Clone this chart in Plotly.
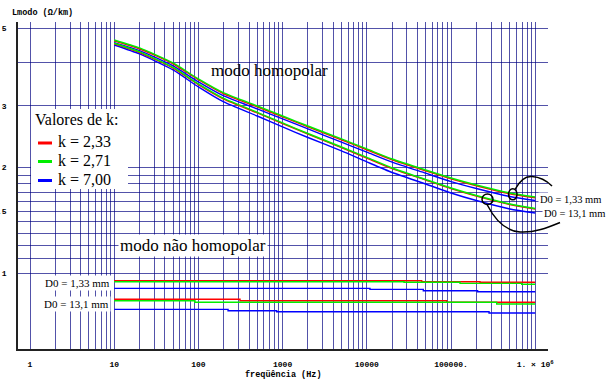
import plotly.graph_objects as go

# Frequency samples (Hz)
freq = [10, 20, 50, 100, 200, 500, 1000, 2000, 5000, 1e4, 2e4, 5e4, 1e5, 2e5, 5e5, 1e6]

# Homopolar mode, D0 = 1,33 mm
hom_133_k233 = [4.607, 4.371, 3.960, 3.565, 3.251, 2.984, 2.794, 2.616, 2.402, 2.250, 2.106, 1.959, 1.858, 1.775, 1.684, 1.640]
hom_133_k271 = [4.631, 4.394, 3.981, 3.584, 3.268, 3.000, 2.809, 2.630, 2.415, 2.262, 2.117, 1.969, 1.868, 1.784, 1.693, 1.649]
hom_133_k700 = [4.552, 4.319, 3.905, 3.516, 3.206, 2.943, 2.756, 2.580, 2.364, 2.214, 2.073, 1.928, 1.825, 1.743, 1.654, 1.611]
# Homopolar mode, D0 = 13,1 mm
hom_131_k233 = [4.513, 4.263, 3.850, 3.454, 3.139, 2.866, 2.672, 2.493, 2.282, 2.130, 1.987, 1.843, 1.742, 1.658, 1.569, 1.523]
hom_131_k271 = [4.531, 4.280, 3.865, 3.468, 3.152, 2.878, 2.683, 2.503, 2.291, 2.139, 1.995, 1.850, 1.749, 1.665, 1.575, 1.529]
hom_131_k700 = [4.481, 4.224, 3.802, 3.401, 3.080, 2.809, 2.613, 2.438, 2.232, 2.077, 1.937, 1.796, 1.693, 1.611, 1.524, 1.484]

# Non-homopolar mode (stepwise), D0 = 1,33 mm
nh_133_k233_f = [10, 44900, 221000, 1e6]
nh_133_k233 = [0.9506, 0.9444, 0.9407, 0.9407]
nh_133_k271_f = [10, 27700, 128000, 691000, 1e6]
nh_133_k271 = [0.9444, 0.9407, 0.9345, 0.9284, 0.9284]
nh_133_k700_f = [10, 10900, 46900, 207000, 1e6]
nh_133_k700 = [0.9042, 0.8982, 0.8901, 0.8841, 0.8841]
# Non-homopolar mode (stepwise), D0 = 13,1 mm
nh_131_k233_f = [10, 312, 88900, 1e6]
nh_131_k233 = [0.8412, 0.8335, 0.8249, 0.8249]
nh_131_k271_f = [10, 91, 349000, 1e6]
nh_131_k271 = [0.8335, 0.8249, 0.8156, 0.8156]
nh_131_k700_f = [10, 225, 851, 283000, 1e6]
nh_131_k700 = [0.7876, 0.7804, 0.7752, 0.7686, 0.7686]

x_ticks = [1, 10, 100, 1000, 10000, 100000, 1000000]
x_tick_text = ["1", "10", "100", "1000", "10000", "100000.", "1. × 10<sup>6</sup>"]
x_minor = [m * 10 ** d for d in range(6) for m in range(2, 10)]
y_ticks = [1, 1.5, 2, 3, 5]
y_tick_text = ["1", "1.5", "2", "3", "5"]
y_minor = [1.1, 1.2, 1.3, 1.4, 1.6, 1.7, 1.8, 1.9, 4]

k_labels = ["k = 2,33", "k = 2,71", "k = 7,00"]
k_colors = ["#ff0000", "#00ee00", "#0000ff"]

GRID = "rgba(0,0,128,0.68)"
MONO = "Liberation Mono, Courier New, monospace"
SERIF = "Liberation Serif, Times New Roman, serif"

fig = go.Figure()

smooth = [(hom_133_k700, 2), (hom_131_k700, 2), (hom_133_k233, 0), (hom_131_k233, 0),
          (hom_133_k271, 1), (hom_131_k271, 1)]
for ys, ci in smooth:
    fig.add_trace(go.Scatter(x=freq, y=ys, mode="lines", showlegend=False,
                             line=dict(color=k_colors[ci], width=1.4, shape="spline", smoothing=0.6)))

steps = [(nh_133_k700_f, nh_133_k700, 2), (nh_131_k700_f, nh_131_k700, 2),
         (nh_133_k233_f, nh_133_k233, 0), (nh_131_k233_f, nh_131_k233, 0),
         (nh_133_k271_f, nh_133_k271, 1), (nh_131_k271_f, nh_131_k271, 1)]
for xs, ys, ci in steps:
    fig.add_trace(go.Scatter(x=xs, y=ys, mode="lines", showlegend=False,
                             line=dict(color=k_colors[ci], width=1.4, shape="hv")))

L, R, T, B = 18, 59, 22, 35
W, H = 607, 384
PW, PH = W - L - R, H - T - B


def px(x):
    return (x - L) / PW


def py(y):
    return (H - B - y) / PH


def path(points, closed=False):
    s = ""
    for cmd, pts in points:
        s += cmd + " " + " ".join(f"{px(a):.5f},{py(b):.5f}" for a, b in pts) + " "
    return s + ("Z" if closed else "")


shapes = []
# legend box
shapes.append(dict(type="rect", xref="paper", yref="paper", x0=px(31), x1=px(128), y0=py(189), y1=py(109),
                   fillcolor="white", line=dict(width=0), layer="above"))
for i, yy in enumerate([143, 161.5, 180.5]):
    shapes.append(dict(type="line", xref="paper", yref="paper", x0=px(38), x1=px(52), y0=py(yy), y1=py(yy),
                       line=dict(color=k_colors[i], width=3), layer="above"))
# markers around the curve ends
shapes.append(dict(type="circle", xref="paper", yref="paper", x0=px(508.5), x1=px(517), y0=py(199.8), y1=py(188.8),
                   line=dict(color="black", width=1.5), layer="above"))
shapes.append(dict(type="circle", xref="paper", yref="paper", x0=px(482), x1=px(493), y0=py(204.5), y1=py(194),
                   line=dict(color="black", width=1.5), layer="above"))
# curved arrows
shapes.append(dict(type="path", xref="paper", yref="paper", layer="above", line=dict(color="black", width=1.5),
                   path=path([("M", [(515, 189.5)]), ("C", [(520, 180), (526, 176), (532, 176.5)]),
                              ("C", [(540, 177), (547, 181), (552, 186)])])))
shapes.append(dict(type="path", xref="paper", yref="paper", layer="above", line=dict(color="black", width=0),
                   fillcolor="black",
                   path=path([("M", [(556.5, 189.8)]), ("L", [(548.5, 187), (553.8, 181.6)])], closed=True)))
shapes.append(dict(type="path", xref="paper", yref="paper", layer="above", line=dict(color="black", width=1.5),
                   path=path([("M", [(487, 204.5)]), ("C", [(495, 220), (505, 231), (520, 232)]),
                              ("C", [(535, 233), (549, 227), (560, 222.5)])])))
shapes.append(dict(type="path", xref="paper", yref="paper", layer="above", line=dict(color="black", width=0),
                   fillcolor="black",
                   path=path([("M", [(568, 219.3)]), ("L", [(560.5, 226.8), (557.8, 219.8)])], closed=True)))

annotations = []


def text(x, y, s, size, anchor="left", font=SERIF, bg=None, bold=False):
    annotations.append(dict(x=px(x), y=py(y), xref="paper", yref="paper", text=s, showarrow=False,
                            xanchor=anchor, yanchor="middle",
                            font=dict(family=font, size=size, color="black", weight="bold" if bold else "normal"),
                            bgcolor=bg, borderpad=1))


text(10, 13, "Lmodo (Ω/km)", 8.5, font=MONO, bold=True)
text(269, 70, "modo homopolar", 17, anchor="center")
text(118, 245, "modo não homopolar", 17, bg="white")
text(33, 119, "Valores de k:", 16)
for i, yy in enumerate([141, 160, 179]):
    text(56, yy, k_labels[i], 16)
text(43, 283, "D0 = 1,33 mm", 11, bg="white")
text(42, 304, "D0 = 13,1 mm", 11, bg="white")
text(538, 199.5, "D0 = 1,33 mm", 10.5, bg="white")
text(542, 213, "D0 = 13,1 mm", 10.5, bg="white")
text(283, 375, "freqüência (Hz)", 8.5, anchor="center", font=MONO, bold=True)

fig.update_layout(
    width=W, height=H, margin=dict(l=L, r=R, t=T, b=B),
    paper_bgcolor="white", plot_bgcolor="white",
    shapes=shapes, annotations=annotations,
    xaxis=dict(type="log", range=[-0.1425, 6.152], tickvals=x_ticks, ticktext=x_tick_text,
               showgrid=True, gridcolor=GRID, gridwidth=1, zeroline=False, automargin=False,
               showline=True, linecolor="#222", linewidth=1.5, ticks="", ticklabelstandoff=7,
               tickfont=dict(family=MONO, size=8, color="black", weight="bold"),
               minor=dict(tickvals=x_minor, showgrid=True, gridcolor=GRID, gridwidth=1, ticks="")),
    yaxis=dict(type="log", range=[-0.217, 0.717], tickvals=y_ticks, ticktext=y_tick_text,
               showgrid=True, gridcolor=GRID, gridwidth=1, zeroline=False, automargin=False,
               showline=True, linecolor="#222", linewidth=1.5, ticks="", ticklabelstandoff=8,
               tickfont=dict(family=MONO, size=8, color="black", weight="bold"),
               minor=dict(tickvals=y_minor, showgrid=True, gridcolor=GRID, gridwidth=1, ticks="")),
)

fig.write_html("out.html")
